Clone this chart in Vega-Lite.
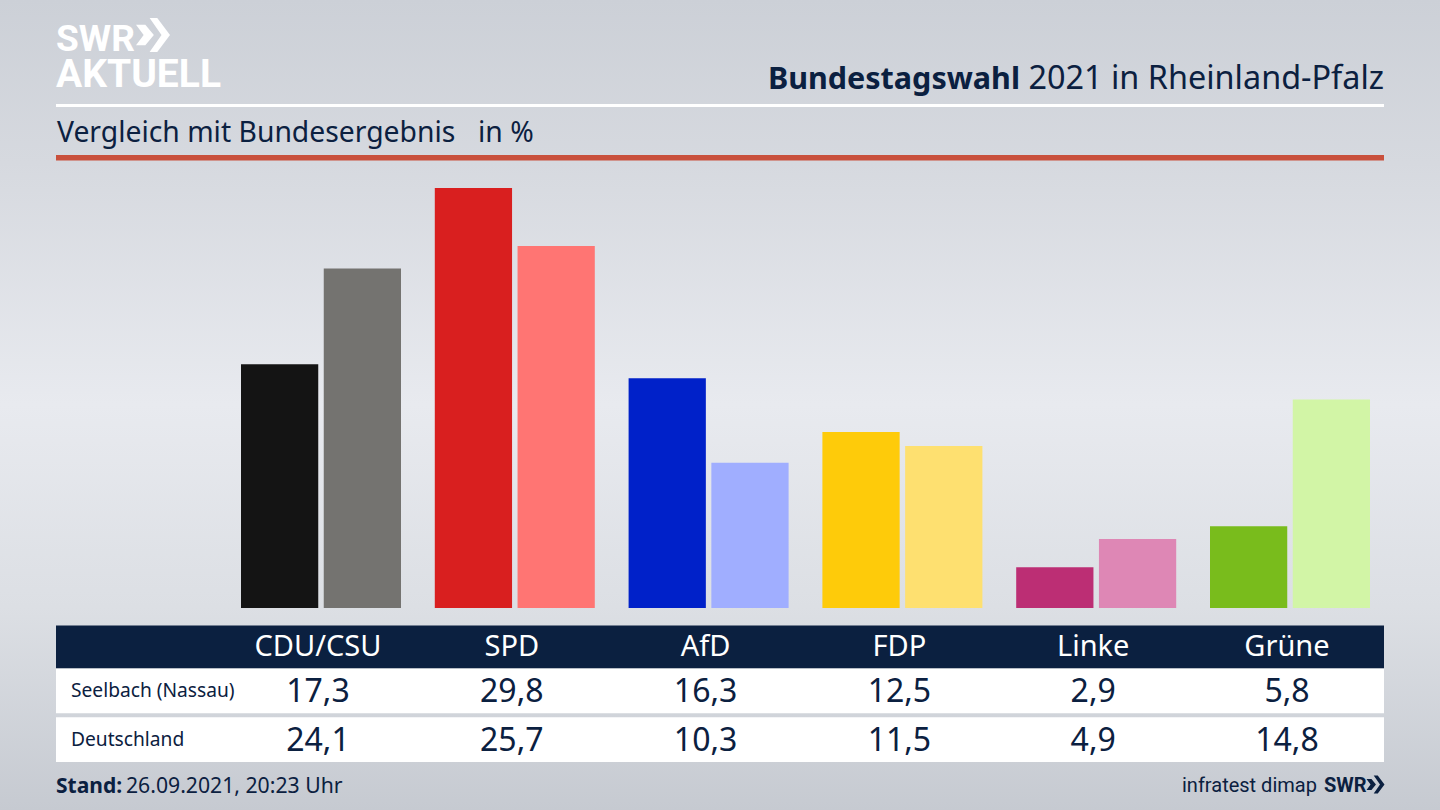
{
  "$schema": "https://vega.github.io/schema/vega-lite/v6.json",
  "width": 1440,
  "height": 810,
  "autosize": {"type": "fit", "contains": "padding"},
  "padding": 0,
  "background": "#dcdfe4",
  "view": {"stroke": null},
  "config": {
    "locale": {"number": {"decimal": ",", "thousands": ".", "grouping": [3], "currency": ["", " €"]}},
    "text": {"font": "Noto Sans", "color": "#0b2040"}
  },
  "datasets": {
    "results": [
      {"party": "CDU/CSU", "region": "Seelbach (Nassau)", "series": "CDU/CSU Seelbach", "value": 17.3},
      {"party": "CDU/CSU", "region": "Deutschland", "series": "CDU/CSU Deutschland", "value": 24.1},
      {"party": "SPD", "region": "Seelbach (Nassau)", "series": "SPD Seelbach", "value": 29.8},
      {"party": "SPD", "region": "Deutschland", "series": "SPD Deutschland", "value": 25.7},
      {"party": "AfD", "region": "Seelbach (Nassau)", "series": "AfD Seelbach", "value": 16.3},
      {"party": "AfD", "region": "Deutschland", "series": "AfD Deutschland", "value": 10.3},
      {"party": "FDP", "region": "Seelbach (Nassau)", "series": "FDP Seelbach", "value": 12.5},
      {"party": "FDP", "region": "Deutschland", "series": "FDP Deutschland", "value": 11.5},
      {"party": "Linke", "region": "Seelbach (Nassau)", "series": "Linke Seelbach", "value": 2.9},
      {"party": "Linke", "region": "Deutschland", "series": "Linke Deutschland", "value": 4.9},
      {"party": "Grüne", "region": "Seelbach (Nassau)", "series": "Grüne Seelbach", "value": 5.8},
      {"party": "Grüne", "region": "Deutschland", "series": "Grüne Deutschland", "value": 14.8}
    ],
    "parties": [
      {"party": "CDU/CSU"}, {"party": "SPD"}, {"party": "AfD"}, {"party": "FDP"}, {"party": "Linke"}, {"party": "Grüne"}
    ],
    "regions": [
      {"region": "Seelbach (Nassau)"}, {"region": "Deutschland"}
    ]
  },
  "layer": [
    {
      "data": {"values": [{"area": "page"}]},
      "mark": {
        "type": "rect",
        "fill": {
          "gradient": "linear", "x1": 0, "y1": 0, "x2": 0, "y2": 1,
          "stops": [
            {"offset": 0, "color": "#ccd0d7"},
            {"offset": 0.2, "color": "#d6d9df"},
            {"offset": 0.5, "color": "#e8eaef"},
            {"offset": 0.75, "color": "#dcdfe4"},
            {"offset": 1, "color": "#c6cad1"}
          ]
        }
      },
      "encoding": {
        "x": {"field": "area", "type": "nominal", "axis": null, "scale": {"type": "band", "range": [0, 1440], "padding": 0}},
        "y": {"field": "area", "type": "nominal", "axis": null, "scale": {"type": "band", "range": [0, 810], "padding": 0}}
      }
    },
    {
      "data": {"values": [{"line": "white"}]},
      "mark": {"type": "rect", "fill": "#ffffff"},
      "encoding": {
        "x": {"field": "line", "type": "nominal", "axis": null, "scale": {"type": "band", "range": [56, 1384], "padding": 0}},
        "y": {"field": "line", "type": "nominal", "axis": null, "scale": {"type": "band", "range": [104, 107], "padding": 0}}
      }
    },
    {
      "data": {"values": [{"line": "red"}]},
      "mark": {"type": "rect", "fill": "#c9503c"},
      "encoding": {
        "x": {"field": "line", "type": "nominal", "axis": null, "scale": {"type": "band", "range": [56, 1384], "padding": 0}},
        "y": {"field": "line", "type": "nominal", "axis": null, "scale": {"type": "band", "range": [155, 160.5], "padding": 0}}
      }
    },
    {
      "data": {"name": "results"},
      "mark": {"type": "bar"},
      "encoding": {
        "x": {
          "field": "party", "type": "nominal", "axis": null, "sort": null,
          "scale": {"type": "band", "domain": ["CDU/CSU", "SPD", "AfD", "FDP", "Linke", "Grüne"], "range": [224.1, 1386.9], "padding": 0}
        },
        "xOffset": {
          "field": "region", "type": "nominal", "sort": null,
          "scale": {"type": "band", "domain": ["Seelbach (Nassau)", "Deutschland"], "range": [16.9, 176.9], "paddingInner": 0.0665, "paddingOuter": 0}
        },
        "y": {
          "field": "value", "type": "quantitative", "axis": null,
          "scale": {"domain": [0, 30], "range": [608, 185.3], "nice": false}
        },
        "color": {
          "field": "series", "type": "nominal", "legend": null,
          "scale": {
            "domain": ["CDU/CSU Seelbach", "CDU/CSU Deutschland", "SPD Seelbach", "SPD Deutschland", "AfD Seelbach", "AfD Deutschland", "FDP Seelbach", "FDP Deutschland", "Linke Seelbach", "Linke Deutschland", "Grüne Seelbach", "Grüne Deutschland"],
            "range": ["#141414", "#747370", "#d91f1f", "#ff7573", "#0021c9", "#a0aeff", "#fecb0a", "#fee070", "#bc2e74", "#de87b5", "#79bc1c", "#d2f5a6"]
          }
        }
      }
    },
    {
      "data": {"values": [{"row": "head"}]},
      "mark": {"type": "rect", "fill": "#0b2040"},
      "encoding": {
        "x": {"field": "row", "type": "nominal", "axis": null, "scale": {"type": "band", "range": [56, 1384], "padding": 0}},
        "y": {"field": "row", "type": "nominal", "axis": null, "scale": {"type": "band", "range": [625.5, 668.5], "padding": 0}}
      }
    },
    {
      "data": {"name": "regions"},
      "transform": [{"calculate": "'table'", "as": "table"}],
      "mark": {"type": "rect", "fill": "#ffffff"},
      "encoding": {
        "x": {"field": "table", "type": "nominal", "axis": null, "scale": {"type": "band", "range": [56, 1384], "padding": 0}},
        "y": {
          "field": "region", "type": "nominal", "axis": null, "sort": null,
          "scale": {"type": "band", "domain": ["Seelbach (Nassau)", "Deutschland"], "range": [668.5, 762], "paddingInner": 0.082, "paddingOuter": 0}
        }
      }
    },
    {
      "data": {"name": "parties"},
      "mark": {"type": "text", "fontSize": 29, "color": "#ffffff", "align": "center", "baseline": "alphabetic"},
      "encoding": {
        "text": {"field": "party"},
        "x": {
          "field": "party", "type": "nominal", "axis": null, "sort": null,
          "scale": {"type": "point", "domain": ["CDU/CSU", "SPD", "AfD", "FDP", "Linke", "Grüne"], "range": [318, 1287], "padding": 0}
        },
        "y": {"datum": "head", "type": "nominal", "axis": null, "scale": {"type": "point", "domain": ["head"], "range": [656, 656], "padding": 0}}
      }
    },
    {
      "data": {"name": "results"},
      "mark": {"type": "text", "fontSize": 32, "align": "center", "baseline": "alphabetic"},
      "encoding": {
        "text": {"field": "value", "type": "quantitative", "format": ".1f"},
        "x": {
          "field": "party", "type": "nominal", "axis": null, "sort": null,
          "scale": {"type": "point", "domain": ["CDU/CSU", "SPD", "AfD", "FDP", "Linke", "Grüne"], "range": [318, 1287], "padding": 0}
        },
        "y": {
          "field": "region", "type": "nominal", "axis": null, "sort": null,
          "scale": {"type": "point", "domain": ["Seelbach (Nassau)", "Deutschland"], "range": [702, 751], "padding": 0}
        }
      }
    },
    {
      "data": {"name": "regions"},
      "mark": {"type": "text", "fontSize": 19.2, "align": "left", "baseline": "alphabetic"},
      "encoding": {
        "text": {"field": "region"},
        "x": {"datum": "label", "type": "nominal", "axis": null, "scale": {"type": "point", "domain": ["label"], "range": [71, 71], "padding": 0}},
        "y": {
          "field": "region", "type": "nominal", "axis": null, "sort": null,
          "scale": {"type": "point", "domain": ["Seelbach (Nassau)", "Deutschland"], "range": [697, 746], "padding": 0}
        }
      }
    },
    {
      "data": {"values": [{"text": "SWR"}]},
      "mark": {"type": "text", "font": "Roboto", "fontWeight": "bold", "fontSize": 37, "color": "#ffffff", "align": "left", "baseline": "alphabetic"},
      "encoding": {
        "text": {"field": "text"},
        "x": {"field": "text", "type": "nominal", "axis": null, "scale": {"type": "point", "range": [56, 56], "padding": 0}},
        "y": {"field": "text", "type": "nominal", "axis": null, "scale": {"type": "point", "range": [50.5, 50.5], "padding": 0}}
      }
    },
    {
      "data": {"values": [{"text": "AKTUELL"}]},
      "mark": {"type": "text", "font": "Roboto", "fontWeight": "bold", "fontSize": 39, "color": "#ffffff", "align": "left", "baseline": "alphabetic"},
      "encoding": {
        "text": {"field": "text"},
        "x": {"field": "text", "type": "nominal", "axis": null, "scale": {"type": "point", "range": [56, 56], "padding": 0}},
        "y": {"field": "text", "type": "nominal", "axis": null, "scale": {"type": "point", "range": [87, 87], "padding": 0}}
      }
    },
    {
      "data": {"values": [{"slot": "logo"}]},
      "mark": {"type": "point", "filled": true, "opacity": 1, "strokeWidth": 0, "color": "#ffffff", "size": 1156, "shape": "M-1,-0.6L-0.45,-0.6L0.05,0L-0.45,0.6L-1,0.6L-0.55,0ZM-0.2,-1L0.25,-1L1,0L0.25,1L-0.2,1L0.5,0Z"},
      "encoding": {
        "x": {"field": "slot", "type": "nominal", "axis": null, "scale": {"type": "point", "domain": ["logo"], "range": [153, 153], "padding": 0}},
        "y": {"field": "slot", "type": "nominal", "axis": null, "scale": {"type": "point", "domain": ["logo"], "range": [35, 35], "padding": 0}}
      }
    },
    {
      "data": {"values": [{"slot": "logo"}]},
      "mark": {"type": "point", "filled": true, "opacity": 1, "strokeWidth": 0, "color": "#0b2040", "size": 324, "shape": "M-1,-0.6L-0.45,-0.6L0.05,0L-0.45,0.6L-1,0.6L-0.55,0ZM-0.2,-1L0.25,-1L1,0L0.25,1L-0.2,1L0.5,0Z"},
      "encoding": {
        "x": {"field": "slot", "type": "nominal", "axis": null, "scale": {"type": "point", "domain": ["logo"], "range": [1375.5, 1375.5], "padding": 0}},
        "y": {"field": "slot", "type": "nominal", "axis": null, "scale": {"type": "point", "domain": ["logo"], "range": [784.5, 784.5], "padding": 0}}
      }
    },
    {
      "data": {"values": [{"text": "Bundestagswahl"}]},
      "mark": {"type": "text", "fontSize": 30.5, "fontWeight": "bold", "align": "right", "baseline": "alphabetic"},
      "encoding": {
        "text": {"field": "text"},
        "x": {"field": "text", "type": "nominal", "axis": null, "scale": {"type": "point", "range": [1020, 1020], "padding": 0}},
        "y": {"field": "text", "type": "nominal", "axis": null, "scale": {"type": "point", "range": [89, 89], "padding": 0}}
      }
    },
    {
      "data": {"values": [{"text": "2021 in Rheinland-Pfalz"}]},
      "mark": {"type": "text", "fontSize": 32.4, "align": "right", "baseline": "alphabetic"},
      "encoding": {
        "text": {"field": "text"},
        "x": {"field": "text", "type": "nominal", "axis": null, "scale": {"type": "point", "range": [1384, 1384], "padding": 0}},
        "y": {"field": "text", "type": "nominal", "axis": null, "scale": {"type": "point", "range": [89, 89], "padding": 0}}
      }
    },
    {
      "data": {"values": [{"text": "Vergleich mit Bundesergebnis"}, {"text": "in %"}]},
      "mark": {"type": "text", "fontSize": 28.3, "align": "left", "baseline": "alphabetic"},
      "encoding": {
        "text": {"field": "text"},
        "x": {"field": "text", "type": "nominal", "axis": null, "sort": null, "scale": {"type": "point", "domain": ["Vergleich mit Bundesergebnis", "in %"], "range": [57, 478], "padding": 0}},
        "y": {"datum": "sub", "type": "nominal", "axis": null, "scale": {"type": "point", "domain": ["sub"], "range": [142, 142], "padding": 0}}
      }
    },
    {
      "data": {"values": [{"text": "Stand:"}]},
      "mark": {"type": "text", "fontSize": 21, "fontWeight": "bold", "align": "left", "baseline": "alphabetic"},
      "encoding": {
        "text": {"field": "text"},
        "x": {"field": "text", "type": "nominal", "axis": null, "scale": {"type": "point", "range": [56, 56], "padding": 0}},
        "y": {"datum": "foot", "type": "nominal", "axis": null, "scale": {"type": "point", "domain": ["foot"], "range": [793, 793], "padding": 0}}
      }
    },
    {
      "data": {"values": [{"text": "26.09.2021, 20:23 Uhr"}]},
      "mark": {"type": "text", "fontSize": 21.2, "align": "left", "baseline": "alphabetic"},
      "encoding": {
        "text": {"field": "text"},
        "x": {"field": "text", "type": "nominal", "axis": null, "scale": {"type": "point", "range": [126, 126], "padding": 0}},
        "y": {"datum": "foot", "type": "nominal", "axis": null, "scale": {"type": "point", "domain": ["foot"], "range": [793, 793], "padding": 0}}
      }
    },
    {
      "data": {"values": [{"text": "infratest dimap"}]},
      "mark": {"type": "text", "font": "Roboto", "fontSize": 20, "align": "left", "baseline": "alphabetic"},
      "encoding": {
        "text": {"field": "text"},
        "x": {"field": "text", "type": "nominal", "axis": null, "scale": {"type": "point", "range": [1182, 1182], "padding": 0}},
        "y": {"datum": "foot", "type": "nominal", "axis": null, "scale": {"type": "point", "domain": ["foot"], "range": [792, 792], "padding": 0}}
      }
    },
    {
      "data": {"values": [{"text": "SWR"}]},
      "mark": {"type": "text", "font": "Roboto", "fontSize": 20, "fontWeight": "bold", "align": "left", "baseline": "alphabetic"},
      "encoding": {
        "text": {"field": "text"},
        "x": {"field": "text", "type": "nominal", "axis": null, "scale": {"type": "point", "range": [1324, 1324], "padding": 0}},
        "y": {"datum": "foot", "type": "nominal", "axis": null, "scale": {"type": "point", "domain": ["foot"], "range": [792, 792], "padding": 0}}
      }
    }
  ],
  "resolve": {"scale": {"x": "independent", "y": "independent", "xOffset": "independent", "color": "independent"}}
}
